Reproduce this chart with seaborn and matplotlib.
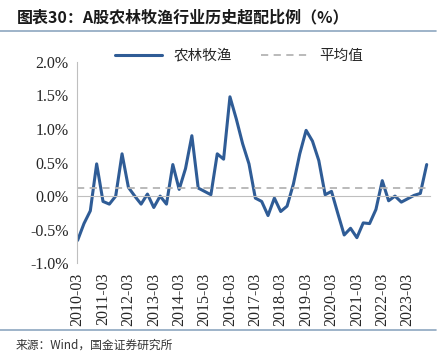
import numpy as np
import pandas as pd
import matplotlib
matplotlib.use("Agg")
import matplotlib.pyplot as plt
import seaborn as sns

# 农林牧渔 超配比例（%），季度数据 2010Q1 - 2023Q4
ratio = [-0.66, -0.41, -0.22, 0.48, -0.08, -0.12, 0.00, 0.63,
         0.13, 0.00, -0.12, 0.03, -0.17, 0.00, -0.12, 0.47,
         0.10, 0.41, 0.90, 0.12, 0.07, 0.02, 0.63, 0.55,
         1.48, 1.15, 0.78, 0.48, -0.03, -0.08, -0.29, -0.03,
         -0.23, -0.15, 0.18, 0.63, 0.98, 0.82, 0.53, 0.02,
         0.07, -0.26, -0.58, -0.48, -0.62, -0.40, -0.41, -0.20,
         0.23, -0.07, 0.00, -0.09, -0.04, 0.01, 0.04, 0.47]
avg_value = 0.12
years = [str(y) for y in range(2010, 2024)]
tick_labels = [y + "-03" for y in years]

df = pd.DataFrame({"idx": np.arange(len(ratio)), "ratio": ratio})

sns.set_style("white")
plt.rcParams["font.family"] = ["Liberation Serif", "Noto Sans CJK SC"]

fig = plt.figure(figsize=(4.45, 3.6), dpi=100)
ax = fig.add_axes([0.173, 0.269, 0.793, 0.559])

line_color = "#2f5c96"
gray = "#bfbfbf"

sns.lineplot(data=df, x="idx", y="ratio", ax=ax, color=line_color, lw=2.2,
             label="农林牧渔")
ax.axhline(avg_value, color="#b4b4b4", lw=1.3, ls=(0, (4, 3)), label="平均值")

for s in ["top", "right"]:
    ax.spines[s].set_visible(False)
ax.spines["left"].set_color(gray)
ax.spines["bottom"].set_color(gray)
ax.spines["bottom"].set_position(("data", 0))
ax.tick_params(axis="y", direction="out", length=4, color=gray, pad=2)
ax.tick_params(axis="x", direction="in", length=4, color=gray, pad=55)

ax.set_xlim(-0.1, len(ratio) - 0.5)
ax.set_ylim(-1.0, 2.0)
ax.set_yticks(np.arange(-1.0, 2.01, 0.5))
ax.set_yticklabels([f"{v:.1f}%" for v in np.arange(-1.0, 2.01, 0.5)], fontsize=11.5)
ax.set_xticks(np.arange(0, len(ratio), 4))
ax.set_xticklabels(tick_labels, rotation=90, fontsize=11.5, va="top")
ax.set_xlabel("")
ax.set_ylabel("")

leg = ax.legend(loc="lower center", bbox_to_anchor=(0.46, 0.93), ncol=2, frameon=False,
                handlelength=3.2, columnspacing=2.0,
                prop={"family": "Noto Sans CJK SC", "size": 10.5})

fig.text(0.038, 0.952, "图表30：A股农林牧渔行业历史超配比例（%）", fontsize=11.5,
         fontweight="bold", fontstyle="italic", family=["Noto Sans CJK SC"],
         va="center", ha="left", color="#1a1a1a")
fig.add_artist(plt.Line2D([0.0, 0.98], [0.915, 0.915], color="#8ea7c0", lw=1.2))
fig.add_artist(plt.Line2D([0.0, 0.98], [0.083, 0.083], color="#8ea7c0", lw=1.2))
fig.text(0.035, 0.042, "来源：Wind，国金证券研究所", fontsize=8.5,
         family=["Noto Sans CJK SC"], va="center", ha="left", color="#333333")

fig.savefig("out.png", dpi=100)
